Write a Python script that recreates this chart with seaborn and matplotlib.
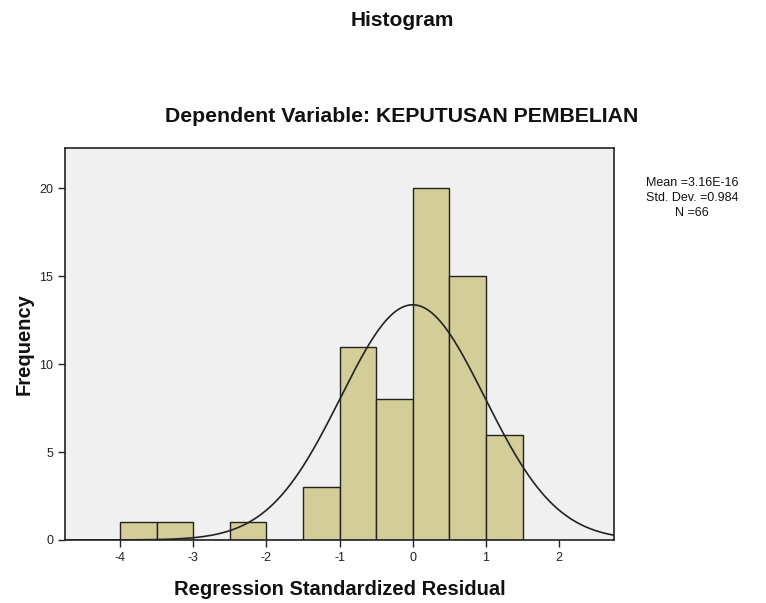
import numpy as np
import pandas as pd
import matplotlib
matplotlib.use('Agg')
import matplotlib.pyplot as plt
import seaborn as sns

# %%

# Histogram of the residuals: bin edges and counts

bin_edges = [-4.0, -3.5, -3.0, -2.5, -2.0, -1.5, -1.0, -0.5, 0.0, 0.5, 1.0, 1.5]
counts = [1, 1, 0, 1, 0, 3, 11, 8, 20, 15, 6]

mean = 3.16e-16
std_dev = 0.984
n_obs = 66

x_ticks = [-4, -3, -2, -1, 0, 1, 2]
y_ticks = [0, 5, 10, 15, 20]

# %%

sns.set_style('white')
plt.rcParams['font.family'] = ['Liberation Sans', 'DejaVu Sans']
plt.rcParams['text.color'] = '#111111'

centers = [(a + b) / 2 for a, b in zip(bin_edges[:-1], bin_edges[1:])]
df = pd.DataFrame({'residual': centers, 'count': counts})

fig = plt.figure(figsize=(7.66, 6.03), dpi=100)
ax = fig.add_axes([0.0849, 0.1045, 0.7167, 0.6501])
ax.set_facecolor('#f0f0f0')

sns.histplot(data=df, x='residual', weights='count', bins=bin_edges,
             color='#d3ce97', edgecolor='#222222', linewidth=1.0,
             alpha=1.0, ax=ax)

# Normal curve scaled to the histogram
binwidth = 0.5
xs = np.linspace(-4.75, 2.75, 400)
ys = n_obs * binwidth / (std_dev * np.sqrt(2 * np.pi)) * \
    np.exp(-0.5 * ((xs - mean) / std_dev) ** 2)
ax.plot(xs, ys, color='#222222', linewidth=1.2)

ax.set_xlim(-4.75, 2.75)
ax.set_ylim(0, 22.3)
ax.set_xticks(x_ticks)
ax.set_xticklabels([str(t) for t in x_ticks])
ax.set_yticks(y_ticks)
ax.tick_params(axis='both', direction='out', length=5, width=1,
               labelsize=9, colors='#222222', bottom=True, left=True)
for s in ax.spines.values():
    s.set_color('#222222')
    s.set_linewidth(1.2)

ax.set_xlabel('Regression Standardized Residual', fontsize=14.5,
              fontweight='bold', labelpad=11.5, color='#111111')
ax.set_ylabel('Frequency', fontsize=14.5, fontweight='bold', labelpad=4,
              color='#111111')

# Titles

fig.text(402 / 766, 1 - 20 / 603, 'Histogram', ha='center', va='center',
         fontsize=15, fontweight='bold')
fig.text(402 / 766, 1 - 116 / 603, 'Dependent Variable: KEPUTUSAN PEMBELIAN',
         ha='center', va='center', fontsize=15.3, fontweight='bold')

# Stats box

fig.text(692 / 766, 1 - 198 / 603,
         'Mean =3.16E-16\nStd. Dev. =0.984\nN =66',
         ha='center', va='center', fontsize=9, linespacing=1.3,
         multialignment='center')

fig.savefig('out.png', dpi=100)
